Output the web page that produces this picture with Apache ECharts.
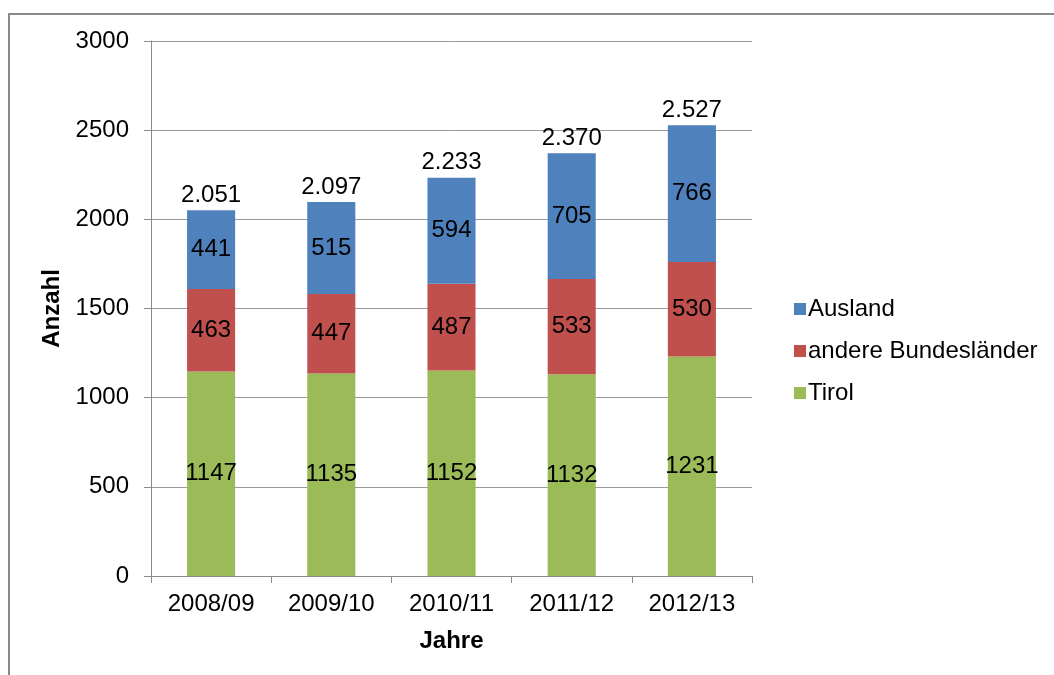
<!DOCTYPE html>
<html>
<head>
<meta charset="utf-8">
<script src="https://cdn.jsdelivr.net/npm/echarts@6/dist/echarts.min.js"></script>
<style>
  html, body { margin: 0; padding: 0; background: #fff; }
  #chart { width: 1054px; height: 675px; }
</style>
</head>
<body>
<div id="chart"></div>
<script>
// Studienjahre
const years = ['2008/09', '2009/10', '2010/11', '2011/12', '2012/13'];
// Herkunft der Studierenden
const tirol = [1147, 1135, 1152, 1132, 1231];
const andereBundeslaender = [463, 447, 487, 533, 530];
const ausland = [441, 515, 594, 705, 766];
// Gesamtzahl je Jahr
const totals = [2051, 2097, 2233, 2370, 2527];
// y-Achse
const yTicks = [0, 500, 1000, 1500, 2000, 2500, 3000];

const FONT = '"Liberation Sans", Arial, sans-serif';
const FS = 24;
const fmtDe = v => String(v).replace(/\B(?=(\d{3})+(?!\d))/g, '.');

const segLabel = {
  show: true,
  position: 'inside',
  color: '#000',
  fontFamily: FONT,
  fontSize: FS
};

const chart = echarts.init(document.getElementById('chart'), null, { renderer: 'canvas' });

chart.setOption({
  animation: false,
  backgroundColor: '#fff',
  graphic: [{
    type: 'rect',
    shape: { x: 9, y: 14, width: 1100, height: 700 },
    style: { fill: 'none', stroke: '#898989', lineWidth: 2 },
    silent: true,
    z: 100
  }],
  grid: { left: 151, right: 302, top: 41, bottom: 99, containLabel: false },
  legend: {
    data: ['Ausland', 'andere Bundesländer', 'Tirol'],
    orient: 'vertical',
    left: 789,
    top: 292,
    itemWidth: 12,
    itemHeight: 12,
    itemGap: 18,
    icon: 'rect',
    textStyle: { fontFamily: FONT, fontSize: FS, color: '#000', padding: [0, 0, 0, -3] }
  },
  xAxis: {
    type: 'category',
    data: years,
    name: 'Jahre',
    nameLocation: 'middle',
    nameGap: 53,
    nameTextStyle: { fontFamily: FONT, fontSize: FS, fontWeight: 'bold', color: '#000' },
    axisLine: { lineStyle: { color: '#8a8a8a', width: 1 } },
    axisTick: { show: true, length: 7, inside: false, lineStyle: { color: '#8a8a8a' } },
    axisLabel: { fontFamily: FONT, fontSize: FS, color: '#000', margin: 16 }
  },
  yAxis: {
    type: 'value',
    min: yTicks[0],
    max: yTicks[yTicks.length - 1],
    interval: 500,
    name: 'Anzahl',
    nameLocation: 'middle',
    nameGap: 83,
    nameRotate: 90,
    nameTextStyle: { fontFamily: FONT, fontSize: FS, fontWeight: 'bold', color: '#000' },
    axisLine: { show: true, lineStyle: { color: '#8a8a8a', width: 1 } },
    axisTick: { show: true, length: 7, lineStyle: { color: '#8a8a8a' } },
    axisLabel: { fontFamily: FONT, fontSize: FS, color: '#000', margin: 22, formatter: v => String(v) },
    splitLine: { show: true, lineStyle: { color: '#9a9a9a', width: 1 } }
  },
  series: [
    {
      name: 'Tirol',
      type: 'bar',
      stack: 'gesamt',
      barWidth: '40%',
      data: tirol,
      itemStyle: { color: '#9BBB59' },
      label: segLabel
    },
    {
      name: 'andere Bundesländer',
      type: 'bar',
      stack: 'gesamt',
      data: andereBundeslaender,
      itemStyle: { color: '#C0504D' },
      label: segLabel
    },
    {
      name: 'Ausland',
      type: 'bar',
      stack: 'gesamt',
      data: ausland,
      itemStyle: { color: '#4F81BD' },
      label: segLabel
    },
    {
      // Summenbeschriftung über jedem Balken
      name: 'Summe',
      type: 'scatter',
      data: totals,
      symbolSize: 0,
      silent: true,
      itemStyle: { opacity: 1 },
      label: {
        show: true,
        position: 'top',
        distance: 3,
        color: '#000',
        fontFamily: FONT,
        fontSize: FS,
        formatter: p => fmtDe(p.value)
      }
    }
  ]
});
</script>
</body>
</html>
